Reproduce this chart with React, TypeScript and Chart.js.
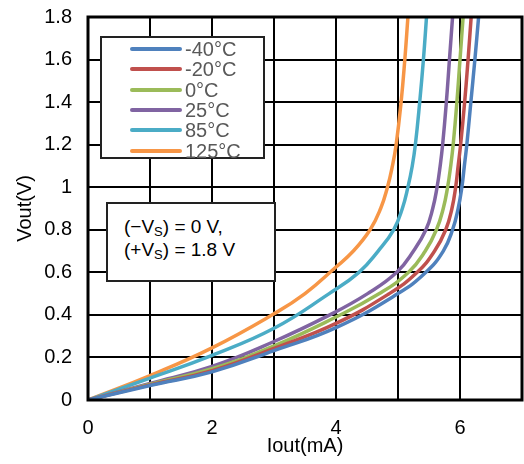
import React, { useEffect, useRef } from "react";
import { Chart, registerables } from "chart.js";

Chart.register(...registerables);

// Series labels and colours
const seriesLabels = ["-40°C", "-20°C", "0°C", "25°C", "85°C", "125°C"];
const seriesColors = ["#4F81BD", "#C0504D", "#9BBB59", "#8064A2", "#4BACC6", "#F79646"];

// Vout (V) / Iout (mA) pairs
const voutM40 = [0, 0.068, 0.132, 0.232, 0.34, 0.5, 0.6, 0.7, 0.8, 0.9, 1.0, 1.1, 1.2, 1.4, 1.6, 1.8];
const ioutM40 = [0, 1, 2, 3, 4, 5.0, 5.45, 5.73, 5.88, 5.97, 6.03, 6.07, 6.11, 6.175, 6.24, 6.3];

const voutM20 = [0, 0.071, 0.138, 0.243, 0.36, 0.5, 0.6, 0.7, 0.8, 0.9, 1.0, 1.1, 1.2, 1.4, 1.6, 1.8];
const ioutM20 = [0, 1, 2, 3, 4, 4.86, 5.31, 5.59, 5.77, 5.87, 5.93, 5.97, 6.01, 6.075, 6.13, 6.18];

const vout0 = [0, 0.074, 0.147, 0.254, 0.39, 0.5, 0.6, 0.7, 0.8, 0.9, 1.0, 1.1, 1.2, 1.4, 1.6, 1.8];
const iout0 = [0, 1, 2, 3, 4, 4.7, 5.17, 5.44, 5.62, 5.73, 5.8, 5.85, 5.89, 5.95, 6.0, 6.05];

const vout25 = [0, 0.078, 0.158, 0.275, 0.4, 0.5, 0.6, 0.7, 0.8, 0.9, 1.0, 1.1, 1.2, 1.4, 1.6, 1.8];
const iout25 = [0, 1, 2, 3, 3.9, 4.51, 4.98, 5.25, 5.45, 5.56, 5.63, 5.68, 5.72, 5.78, 5.83, 5.88];

const vout85 = [0, 0.103, 0.21, 0.337, 0.5, 0.6, 0.7, 0.8, 0.9, 1.0, 1.1, 1.2, 1.4, 1.6, 1.8];
const iout85 = [0, 1, 2, 3, 3.89, 4.37, 4.68, 4.93, 5.07, 5.16, 5.23, 5.28, 5.35, 5.41, 5.46];

const vout125 = [0, 0.115, 0.245, 0.405, 0.5, 0.625, 0.7, 0.8, 0.9, 1.0, 1.1, 1.2, 1.4, 1.6, 1.8];
const iout125 = [0, 1, 2, 3, 3.5, 4, 4.28, 4.55, 4.72, 4.83, 4.91, 4.97, 5.05, 5.11, 5.16];

const seriesIout = [ioutM40, ioutM20, iout0, iout25, iout85, iout125];
const seriesVout = [voutM40, voutM20, vout0, vout25, vout85, vout125];

// Axes
const xMin = 0;
const xMax = 7;
const yMin = 0;
const yMax = 1.8;
const xTitle = "Iout(mA)";
const yTitle = "Vout(V)";

const FONT = "'Liberation Sans', Arial, sans-serif";

const framePlugin = {
  id: "frame",
  afterDatasetsDraw(chart: any) {
    const { ctx, chartArea } = chart;
    ctx.save();
    ctx.strokeStyle = "#000";
    ctx.lineWidth = 3;
    ctx.strokeRect(chartArea.left, chartArea.top, chartArea.right - chartArea.left, chartArea.bottom - chartArea.top);
    ctx.restore();
  },
};

const zeroPadding = (scale: any) => {
  scale.paddingTop = 0;
  scale.paddingBottom = 0;
  scale.paddingLeft = 0;
  scale.paddingRight = 0;
};

export default function App() {
  const canvasRef = useRef<HTMLCanvasElement | null>(null);

  useEffect(() => {
    const canvas = canvasRef.current;
    if (!canvas) return;
    const datasets = seriesLabels.map((label, i) => ({
      label,
      data: seriesVout[i].map((y, j) => ({ x: seriesIout[i][j], y })),
      borderColor: seriesColors[i],
      backgroundColor: seriesColors[i],
      borderWidth: 3.5,
      pointRadius: 0,
      tension: 0.45,
      fill: false,
    }));
    const chart = new Chart(canvas, {
      type: "line",
      data: { datasets },
      plugins: [framePlugin],
      options: {
        animation: false,
        responsive: false,
        devicePixelRatio: 1,
        indexAxis: "y",
        layout: { padding: { top: 17, right: 2, left: 0, bottom: 0 } },
        plugins: {
          legend: { display: false },
          tooltip: { enabled: false },
        },
        scales: {
          x: {
            type: "linear",
            min: xMin,
            max: xMax,
            afterFit: (scale: any) => {
              scale.height = 64;
              zeroPadding(scale);
            },
            ticks: {
              stepSize: 1,
              color: "#000",
              font: { family: FONT, size: 20 },
              padding: 16,
              maxRotation: 0,
              callback: (v: any) => (Math.round(Number(v)) % 2 === 0 ? String(Math.round(Number(v))) : ""),
            },
            grid: {
              color: "#000",
              lineWidth: 2,
              drawTicks: false,
            },
            border: { display: false },
            title: {
              display: true,
              text: xTitle,
              color: "#000",
              font: { family: FONT, size: 20 },
              padding: { top: 0, bottom: 6 },
            },
          },
          y: {
            type: "linear",
            min: yMin,
            max: yMax,
            afterFit: (scale: any) => {
              scale.width = 88;
              zeroPadding(scale);
            },
            ticks: {
              stepSize: 0.1,
              color: "#000",
              font: { family: FONT, size: 20 },
              padding: 16,
              callback: (v: any) => {
                const n = Math.round(Number(v) * 10);
                return n % 2 === 0 ? String(parseFloat((n / 10).toFixed(1))) : "";
              },
            },
            grid: {
              color: (ctx: any) => {
                const n = Math.round((ctx.tick?.value ?? 0) * 10);
                return n % 2 === 0 ? "#000" : "#8c8c8c";
              },
              lineWidth: 2,
              drawTicks: false,
            },
            border: { display: false },
            title: {
              display: true,
              text: yTitle,
              color: "#000",
              font: { family: FONT, size: 20 },
              padding: { top: 13, bottom: 0 },
            },
          },
        },
      },
    });
    return () => chart.destroy();
  }, []);

  return (
    <div style={{ position: "fixed", left: 0, top: 0, width: 524, height: 464, background: "#fff", fontFamily: FONT }}>
      <canvas ref={canvasRef} width={524} height={464} style={{ position: "absolute", left: 0, top: 0 }} />
      <div
        style={{
          position: "absolute",
          left: 100,
          top: 36,
          width: 165,
          height: 123,
          boxSizing: "border-box",
          border: "2px solid #222",
          background: "#fff",
        }}
      >
        {seriesLabels.map((label, i) => (
          <div
            key={label}
            style={{ position: "absolute", left: 28, top: 1 + i * 20.3, height: 20.3, display: "flex", alignItems: "center" }}
          >
            <div style={{ width: 52, height: 4, borderRadius: 2, background: seriesColors[i] }} />
            <span style={{ marginLeft: 3, fontSize: 20, lineHeight: "20px", color: "#595959", whiteSpace: "nowrap" }}>{label}</span>
          </div>
        ))}
      </div>
      <div
        style={{
          position: "absolute",
          left: 106,
          top: 202,
          width: 170,
          height: 80,
          boxSizing: "border-box",
          border: "2px solid #222",
          background: "#fff",
          color: "#000",
          fontSize: 19,
          lineHeight: "23px",
          paddingLeft: 16,
          paddingTop: 11,
        }}
      >
        <div style={{ whiteSpace: "nowrap" }}>
          (−V<sub style={{ fontSize: 13, verticalAlign: "-3px", lineHeight: 0 }}>S</sub>) = 0 V,
        </div>
        <div style={{ whiteSpace: "nowrap" }}>
          (+V<sub style={{ fontSize: 13, verticalAlign: "-3px", lineHeight: 0 }}>S</sub>) = 1.8 V
        </div>
      </div>
    </div>
  );
}
